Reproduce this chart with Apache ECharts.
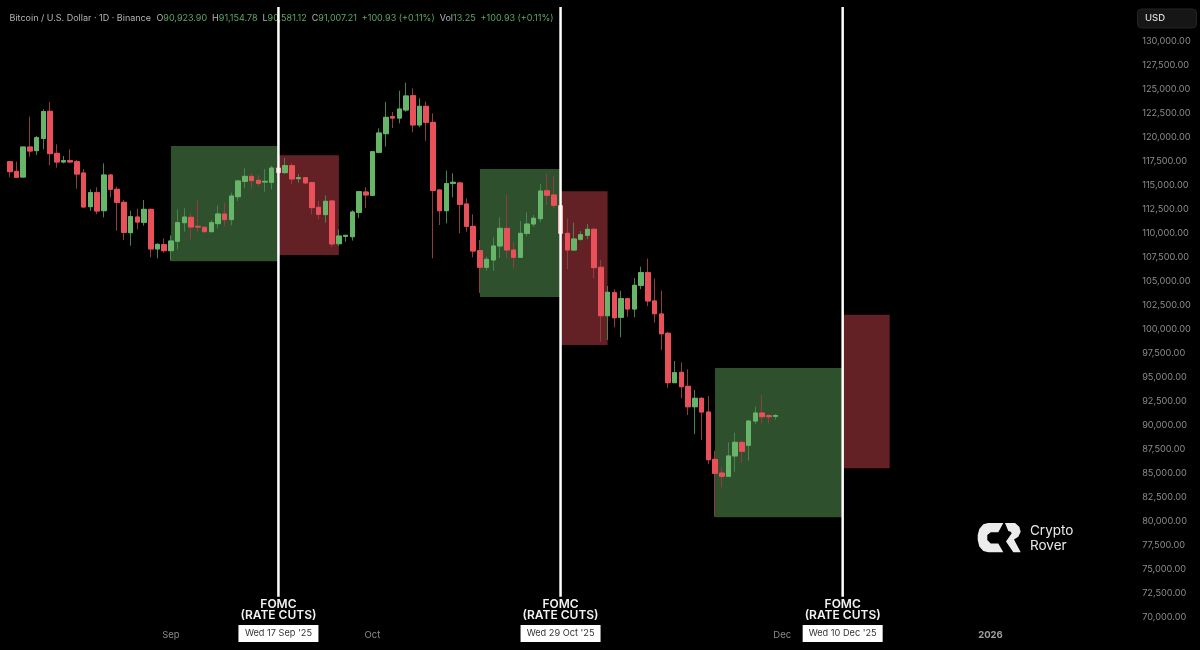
<!DOCTYPE html>
<html><head><meta charset="utf-8">
<style>html,body{margin:0;padding:0;background:#000}#c{width:1200px;height:650px}</style>
<script src="https://cdn.jsdelivr.net/npm/echarts@6/dist/echarts.min.js"></script>
</head><body><div id="c"></div>
<script>
const firstDay = Date.UTC(2025, 7, 8);
const dayCount = 167;
const categories = [];
for (let i = 0; i < dayCount; i++) categories.push(new Date(firstDay + i * 864e5).toISOString().slice(0, 10));

const opens = [117470,116460,115870,119000,118620,119900,122720,118340,117440,117580,117470,116290,112780,114240,112360,116080,114590,113230,110070,111700,111150,112500,108370,108820,108190,109170,111110,111670,110730,110630,110170,111010,112020,111430,113820,115420,115940,115530,115350,115320,116810,116330,117060,115700,115800,115280,112710,111950,113370,108920,109690,109650,112190,114310,113960,118450,120390,122160,122020,122860,124350,121300,123240,121570,114520,112360,115210,115250,113060,110730,108190,106460,107220,108680,110520,108260,107500,110000,110970,111530,114440,114000,112880,110000,108260,109380,109800,110420,106460,101410,103810,101250,103190,102110,104580,105900,102950,101590,99580,94430,95510,94050,91920,92800,91370,86440,85010,84670,86790,88210,87900,90430,91270,90990,90923.9];
const closes = [116430,115840,119000,118580,119970,122690,118310,117440,117580,117440,116180,112750,114240,112330,116080,114590,113230,110100,111740,111180,112500,108370,108850,108190,109200,111110,111700,110660,110660,110170,111110,112020,111430,113890,115460,115940,115490,115210,115420,116810,116330,117060,115670,115800,115250,112680,111980,113340,108890,109720,109790,112220,114340,114000,118510,120460,122090,122020,122960,124320,121300,123240,121570,114480,112360,115180,115320,113020,110730,108160,106460,107290,108680,110520,108260,107500,110000,110970,111570,114410,113970,112920,110000,108260,109410,109860,110420,106420,101410,103850,101200,103190,102110,104580,105900,102950,101620,99530,94430,95470,94010,91920,92800,91370,86400,84980,84670,86790,88210,87270,90430,91270,90880,90880,91007.21];
const lows = [115840,115800,115850,117990,118170,118760,117120,116850,117300,117300,114660,112680,112360,111980,111670,113750,110280,109300,108710,110420,110800,107500,107390,107980,107150,108330,110170,109370,110170,110070,110100,110520,110760,110830,113370,114690,114690,114870,114340,114590,116100,116190,115140,115280,115210,111980,111460,111110,108610,108680,109130,109240,111600,112640,113960,118340,119040,120980,121470,122690,120530,121050,119660,107390,110870,111040,113750,110000,110170,107500,103780,106100,106100,107430,107400,106350,107480,109720,110690,111150,112950,112610,110000,106280,108240,109230,109380,105310,98700,98880,100200,99160,101310,101250,104170,102420,100680,97840,93900,94400,92800,91060,89080,88450,85950,80460,83520,84650,85150,86090,86290,90120,90190,90190,90581.12];
const highs = [117540,117470,119020,122160,120150,122930,123690,119280,118060,118760,117650,116710,114590,114800,117300,116190,114870,113480,112360,112570,113480,112570,108960,109480,109790,112500,112610,112090,113440,110700,111390,112920,113200,114240,115560,116780,116260,116080,116710,117060,116950,117850,117330,116190,115840,115390,113370,113960,113480,110420,109830,112400,114410,114800,118520,120950,123690,122650,124870,125710,125120,124080,123730,122510,114590,116530,116260,115390,113650,111980,109310,107560,109590,111670,114000,109130,111290,112190,111910,115140,116260,116010,113000,111570,111110,110240,110970,110530,107220,104510,104160,104020,103290,105340,106520,107360,105270,104020,99740,96690,96550,95820,93670,92900,93040,87340,85610,88210,89210,88380,90540,91920,93140,91130,91154.78];

const boxStart = ['2025-09-01','2025-09-17','2025-10-17','2025-10-29','2025-11-21','2025-12-10'];
const boxEnd = ['2025-09-17','2025-09-26','2025-10-29','2025-11-05','2025-12-10','2025-12-17'];
const boxHigh = [119100,118150,116700,114400,95950,101500];
const boxLow = [107100,107750,103350,98350,80400,85500];
const boxKind = ['up','down','up','down','up','down'];

const fomcDates = ['2025-09-17','2025-10-29','2025-12-10'];
const fomcTop = 133600, fomcBottom = 72100;
const fomcLines = ['FOMC', '(RATE CUTS)'];

const monthLabels = {'2025-09-01':'Sep','2025-10-01':'Oct','2025-12-01':'Dec','2026-01-01':'2026'};
const dateLabels = {'2025-09-17':"Wed 17 Sep '25",'2025-10-29':"Wed 29 Oct '25",'2025-12-10':"Wed 10 Dec '25"};

const yMin = 70000, yMax = 130000, yStep = 2500;
const headerTitle = 'Bitcoin / U.S. Dollar · 1D · Binance';
const headerParts = [['O','90,923.90'],['H','91,154.78'],['L','90,581.12'],['C','91,007.21'],['','+100.93 (+0.11%)'],['Vol','13.25'],['','+100.93 (+0.11%)']];

const FONT = 'Inter, "Noto Sans", sans-serif';
const UP = '#67b568', DOWN = '#e8505a', UPW = '#4a8150', DOWNW = '#8f3d42';
const BOXUP = '#2f502c', BOXDOWN = '#642125';

const fullData = opens.map((o, i) => [o, closes[i], lows[i], highs[i]]);
const bodyData = opens.map((o, i) => {
  const item = {value: [o, closes[i], Math.min(o, closes[i]), Math.max(o, closes[i])]};
  if (fomcDates.includes(categories[i])) item.itemStyle = {color: '#f3b0b0', color0: '#f3b0b0', borderColor: '#f3b0b0', borderColor0: '#f3b0b0'};
  return item;
});
const boxData = boxStart.map((s, i) => [categories.indexOf(s), categories.indexOf(boxEnd[i]), boxHigh[i], boxLow[i], boxKind[i] === 'up' ? 1 : 0]);
const fomcData = fomcDates.map(d => [categories.indexOf(d), fomcTop, fomcBottom]);

let rich = {a:{color:'#b4b4b4',fontSize:9,fontFamily:FONT,padding:[0,3,0,0]}, g:{color:'#5fa565',fontSize:9,fontFamily:FONT}, k:{color:'#b4b4b4',fontSize:9,fontFamily:FONT}};
const headerText = '{a|' + headerTitle + '} ' + headerParts.map(p => (p[0] ? '{k|' + p[0] + '}' : '') + '{g|' + p[1] + '}').join('  ');

const chart = echarts.init(document.getElementById('c'), null, {renderer: 'canvas'});
chart.setOption({
  backgroundColor: '#000',
  animation: false,
  title: {left: 9.5, top: 14, padding: 0, text: headerText, textStyle: {rich: rich, fontSize: 9, fontWeight: 'normal'}},
  grid: {left: 6.4, width: 6.717 * dayCount, top: 41.5, height: 575.5},
  xAxis: {
    type: 'category', data: categories, boundaryGap: true,
    axisLine: {show: false}, axisTick: {show: false}, splitLine: {show: false},
    axisLabel: {
      margin: 8, hideOverlap: false,
      interval: (i, v) => !!(monthLabels[v] || dateLabels[v]),
      formatter: v => dateLabels[v] ? '{d|' + dateLabels[v] + '}' : (v.startsWith('2026') ? '{y|' : '{m|') + (monthLabels[v] || '') + '}',
      rich: {
        d: {backgroundColor: '#fff', color: '#333', fontSize: 9.2, fontFamily: FONT, width: 80, height: 17, lineHeight: 17, align: 'center', verticalAlign: 'middle'},
        m: {color: '#8a8a8a', fontSize: 9.5, fontFamily: FONT, lineHeight: 20, height: 18},
        y: {color: '#a0a0a0', fontSize: 9.5, fontWeight: 'bold', fontFamily: FONT, lineHeight: 20, height: 18}
      }
    }
  },
  yAxis: {
    type: 'value', position: 'right', min: yMin, max: yMax, interval: yStep, scale: true,
    axisLine: {show: false}, axisTick: {show: false}, splitLine: {show: false},
    axisLabel: {
      color: '#8c8c8c', fontSize: 9.2, fontFamily: FONT, margin: 14, align: 'left', showMinLabel: true, showMaxLabel: true,
      formatter: v => v.toLocaleString('en-US', {minimumFractionDigits: 2, maximumFractionDigits: 2})
    }
  },
  series: [
    {
      type: 'custom', name: 'boxes', z: 1, clip: false, silent: true, data: boxData,
      encode: {x: [0, 1], y: [2, 3]},
      renderItem: (p, api) => {
        const a = api.coord([api.value(0), api.value(2)]);
        const b = api.coord([api.value(1), api.value(3)]);
        return {type: 'rect', shape: {x: a[0], y: a[1], width: b[0] - a[0], height: b[1] - a[1]}, style: {fill: api.value(4) ? BOXUP : BOXDOWN}};
      }
    },
    {
      type: 'candlestick', name: 'wicks', z: 2, barWidth: 5, silent: true, data: fullData,
      itemStyle: {color: UP, color0: DOWN, borderColor: UPW, borderColor0: DOWNW, borderWidth: 1}
    },
    {
      type: 'candlestick', name: 'bodies', z: 3, barWidth: 5, silent: true, data: bodyData,
      itemStyle: {color: UP, color0: DOWN, borderColor: UP, borderColor0: DOWN, borderWidth: 1}
    },
    {
      type: 'custom', name: 'fomc', z: 10, clip: false, silent: true, data: fomcData,
      encode: {x: 0, y: [1, 2]},
      renderItem: (p, api) => {
        const a = api.coord([api.value(0), api.value(1)]);
        const b = api.coord([api.value(0), api.value(2)]);
        return {type: 'group', children: [
          {type: 'line', shape: {x1: a[0], y1: a[1], x2: b[0], y2: b[1]}, style: {stroke: '#fff', lineWidth: 2.5}},
          {type: 'text', x: a[0], y: b[1] + 7.5, style: {text: fomcLines[0], fill: '#f2f2f2', font: '600 12px ' + FONT, textAlign: 'center', textVerticalAlign: 'middle'}},
          {type: 'text', x: a[0], y: b[1] + 19, style: {text: fomcLines[1], fill: '#f2f2f2', font: '600 12px ' + FONT, textAlign: 'center', textVerticalAlign: 'middle'}}
        ]};
      }
    }
  ],
  graphic: [
    {type: 'rect', z: 20, shape: {x: 1137.5, y: 9, width: 59, height: 19, r: 4}, style: {fill: '#161616', stroke: '#242424', lineWidth: 1}},
    {type: 'text', z: 21, x: 1145, y: 18.5, style: {text: 'USD', fill: '#d8d8d8', font: '500 9.5px ' + FONT, textVerticalAlign: 'middle'}},
    {type: 'polygon', z: 20, shape: {points: [[1003.3,523],[988,523],[983.3,524.3],[979.3,529],[977.7,535],[977.7,540],[979.3,546.5],[983.3,551],[988.3,552.3],[1003.3,552.3],[998.3,543.5],[990.7,543.5],[987.3,540],[987.3,535],[990.7,532.3],[998.3,532.3]]}, style: {fill: '#ececec'}},
    {type: 'polygon', z: 20, shape: {points: [[1005,523],[1015,523],[1019.3,526.7],[1020.7,531.7],[1018.3,536.7],[1014,539.5],[1020.7,552.3],[1013.3,552.3],[1006,541.5],[1011.7,533.3],[1010.7,531.7],[1008.3,531]]}, style: {fill: '#ececec'}},
    {type: 'text', z: 20, x: 1030, y: 530.5, style: {text: 'Crypto', fill: '#e8e8e8', font: '400 13.5px ' + FONT, textVerticalAlign: 'middle'}},
    {type: 'text', z: 20, x: 1030, y: 545.5, style: {text: 'Rover', fill: '#e8e8e8', font: '400 13.5px ' + FONT, textVerticalAlign: 'middle'}}
  ]
});
</script></body></html>
